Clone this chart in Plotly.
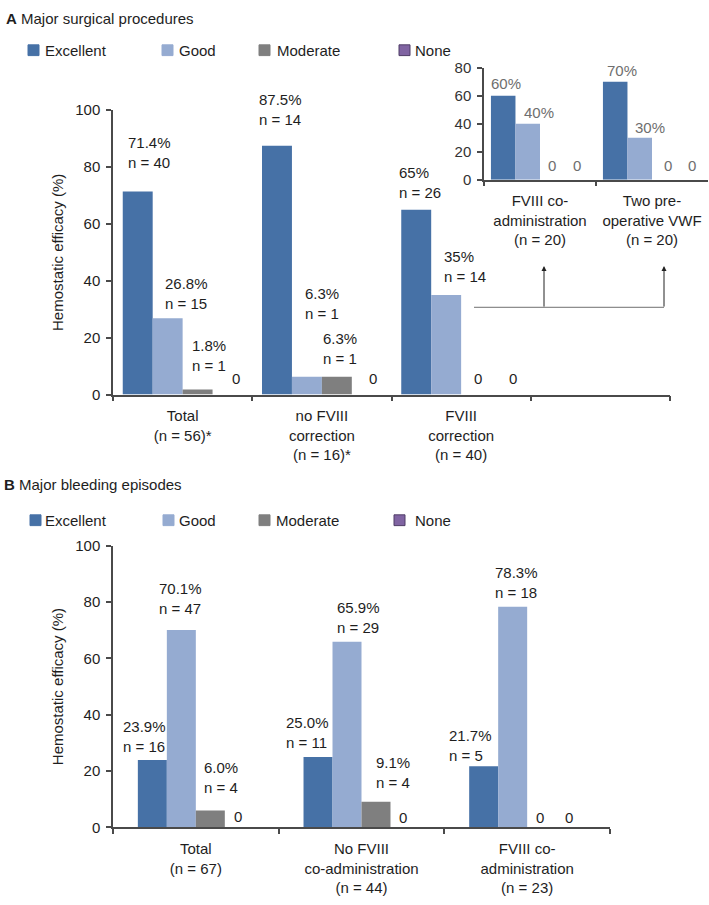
import plotly.graph_objects as go

W, H = 709, 905
FONT = "Arial, 'Liberation Sans', Helvetica, sans-serif"
TXT = "#1e1e1e"
AXC = "#4a4a4a"

# ---------------- data ----------------
levels = ["Excellent", "Good", "Moderate", "None"]
colors = ["#4671a6", "#95abd1", "#7f7f7f", "#8064a2"]

# Panel A - major surgical procedures
a_cats = ["Total<br>(n = 56)*", "no FVIII<br>correction<br>(n = 16)*",
          "FVIII<br>correction<br>(n = 40)", "\u00a0"]
a_excellent = [71.4, 87.5, 65.0, None]
a_good = [26.8, 6.3, 35.0, None]
a_moderate = [1.8, 6.3, 0, None]
a_none = [0, 0, 0, None]
a_labels = [["71.4%<br>n = 40", "26.8%<br>n = 15", "1.8%<br>n = 1", "0"],
            ["87.5%<br>n = 14", "6.3%<br>n = 1", "6.3%<br>n = 1", "0"],
            ["65%<br>n = 26", "35%<br>n = 14", "0", "0"]]

# Inset - FVIII correction subgroups
i_cats = ["FVIII co-<br>administration<br>(n = 20)", "Two pre-<br>operative VWF<br>(n = 20)"]
i_excellent = [60, 70]
i_good = [40, 30]
i_moderate = [0, 0]
i_none = [0, 0]
i_labels = [["60%", "40%", "0", "0"], ["70%", "30%", "0", "0"]]

# Panel B - major bleeding episodes
b_cats = ["Total<br>(n = 67)", "No FVIII<br>co-administration<br>(n = 44)",
          "FVIII co-<br>administration<br>(n = 23)"]
b_excellent = [23.9, 25.0, 21.7]
b_good = [70.1, 65.9, 78.3]
b_moderate = [6.0, 9.1, 0]
b_none = [0, 0, 0]
b_labels = [["23.9%<br>n = 16", "70.1%<br>n = 47", "6.0%<br>n = 4", "0"],
            ["25.0%<br>n = 11", "65.9%<br>n = 29", "9.1%<br>n = 4", "0"],
            ["21.7%<br>n = 5", "78.3%<br>n = 18", "0", "0"]]

# ---------------- layout helpers ----------------
def px_x(p):
    return p / W

def px_y(p):
    return 1 - p / H

fig = go.Figure()

def add_bars(cats, series, xa, ya, width):
    for k, (name, vals) in enumerate(zip(levels, series)):
        fig.add_trace(go.Bar(
            x=cats, y=vals, name=name, marker_color=colors[k],
            marker_line_width=0, width=width, offset=-2 * width + k * width,
            xaxis=xa, yaxis=ya, showlegend=False, hoverinfo="x+y"))

add_bars(a_cats, [a_excellent, a_good, a_moderate, a_none], "x", "y", 0.215)
add_bars(i_cats, [i_excellent, i_good, i_moderate, i_none], "x2", "y2", 0.219)
add_bars(b_cats, [b_excellent, b_good, b_moderate, b_none], "x3", "y3", 0.175)

annotations = []

# value labels: (dx px from category centre, dy px above bar top, anchor)
a_off = [[(-56.6, 39.4, "l"), (-19.6, 24.8, "l"), (7.4, 34.3, "l"), (53.4, 16, "c")],
         [(-64.9, 36.3, "l"), (-18.9, 73.2, "l"), (-0.9, 28.2, "l"), (51, 16, "c")],
         [(-64.1, 27.5, "l"), (-19.0, 28.5, "l"), (17, 16, "c"), (52, 16, "c")]]
i_off = [[(-51, 12.5, "l"), (-18, 11, "l"), (12, 14, "c"), (37, 14, "c")],
         [(-47, 11.3, "l"), (-19, 10.3, "l"), (16, 14, "c"), (40, 14, "c")]]
b_off = [[(-74.8, 23.9, "l"), (-38.8, 31.3, "l"), (6.2, 32.8, "l"), (42.2, 11, "c")],
         [(-77.5, 24.3, "l"), (-26.5, 24.4, "l"), (12.5, 28.9, "l"), (41.5, 10, "c")],
         [(-80.2, 20.7, "l"), (-34.2, 24.8, "l"), (12.8, 10, "c"), (41.8, 10, "c")]]

def add_labels(series, labels, offs, xr, yr, color):
    for ci in range(len(labels)):
        for k in range(4):
            v = series[k][ci]
            dx, dy, anc = offs[ci][k]
            annotations.append(dict(
                x=ci, y=v, xref=xr, yref=yr, text=labels[ci][k], showarrow=False,
                xanchor="left" if anc == "l" else "center", yanchor="middle",
                align="left", xshift=dx, yshift=dy,
                font=dict(family=FONT, size=15, color=color)))

add_labels([a_excellent, a_good, a_moderate, a_none], a_labels, a_off, "x", "y", TXT)
add_labels([i_excellent, i_good, i_moderate, i_none], i_labels, i_off, "x2", "y2", "#6e6e6e")
add_labels([b_excellent, b_good, b_moderate, b_none], b_labels, b_off, "x3", "y3", TXT)

# panel titles
annotations.append(dict(x=px_x(4), y=px_y(10), xref="paper", yref="paper",
                        text="<b>A</b> Major surgical procedures", showarrow=False,
                        xanchor="left", yanchor="middle",
                        font=dict(family=FONT, size=15, color=TXT)))
annotations.append(dict(x=px_x(2), y=px_y(485), xref="paper", yref="paper",
                        text="<b>B</b> Major bleeding episodes", showarrow=False,
                        xanchor="left", yanchor="middle",
                        font=dict(family=FONT, size=15, color=TXT)))

# manual legends
shapes = []
def add_legend(yc, sq_x, txt_x):
    for k, name in enumerate(levels):
        shapes.append(dict(type="rect", xref="paper", yref="paper",
                           x0=px_x(sq_x[k]), x1=px_x(sq_x[k] + 11),
                           y0=px_y(yc + 5.5), y1=px_y(yc - 5.5),
                           fillcolor=colors[k],
                           line=dict(color="#4f3d66" if name == "None" else colors[k], width=1)))
        annotations.append(dict(x=px_x(txt_x[k]), y=px_y(yc), xref="paper", yref="paper",
                                text=name, showarrow=False, xanchor="left", yanchor="middle",
                                font=dict(family=FONT, size=15, color=TXT)))

add_legend(42, [28, 162, 259, 399], [43, 177, 275, 413])
add_legend(521, [30, 163, 259, 394], [43, 177, 274, 413])

# connector from FVIII correction to inset
shapes.append(dict(type="line", xref="paper", yref="paper",
                   x0=px_x(474), x1=px_x(664), y0=px_y(304), y1=px_y(304),
                   line=dict(color="#707070", width=1)))
for ax_px in (544, 664):
    annotations.append(dict(x=px_x(ax_px), y=px_y(262), xref="paper", yref="paper",
                            text="", showarrow=True, ax=0, ay=42,
                            arrowhead=2, arrowsize=1, arrowwidth=1, arrowcolor="#222"))

def xaxis_style(domain, anchor):
    return dict(domain=domain, anchor=anchor, type="category", showline=True,
                linecolor=AXC, linewidth=1.5, ticks="outside", tickson="boundaries",
                ticklen=5, tickcolor=AXC, tickwidth=1.5, showgrid=False, zeroline=False,
                ticklabelstandoff=7,
                tickfont=dict(family=FONT, size=15, color=TXT), fixedrange=True)

def yaxis_style(domain, anchor, rng, title=None, tick_color=TXT):
    d = dict(domain=domain, anchor=anchor, range=rng, dtick=20, tick0=0,
             showline=True, linecolor=AXC, linewidth=1.5, ticks="outside",
             ticklen=5, tickcolor=AXC, tickwidth=1.5, showgrid=False, zeroline=False,
             ticklabelstandoff=3,
             tickfont=dict(family=FONT, size=15, color=tick_color), fixedrange=True)
    if title:
        d["title"] = dict(text=title, standoff=8, font=dict(family=FONT, size=15, color=TXT))
    return d

fig.update_layout(
    width=W, height=H, margin=dict(l=0, r=0, t=0, b=0),
    paper_bgcolor="white", plot_bgcolor="white",
    barmode="overlay", showlegend=False,
    font=dict(family=FONT, size=15, color=TXT),
    xaxis=xaxis_style([px_x(113), px_x(670)], "y"),
    yaxis=yaxis_style([px_y(393), px_y(103)], "x", [0, 100], "Hemostatic efficacy (%)"),
    xaxis2=xaxis_style([px_x(484), px_x(708)], "y2"),
    yaxis2=yaxis_style([px_y(174), px_y(60)], "x2", [0, 80], tick_color="#333"),
    xaxis3=xaxis_style([px_x(113), px_x(610)], "y3"),
    yaxis3=yaxis_style([px_y(834), px_y(547)], "x3", [0, 100], "Hemostatic efficacy (%)"),
    annotations=annotations, shapes=shapes,
)

fig.write_html("out.html", config={"displayModeBar": False},
               post_script="document.body.style.margin='0px';")
